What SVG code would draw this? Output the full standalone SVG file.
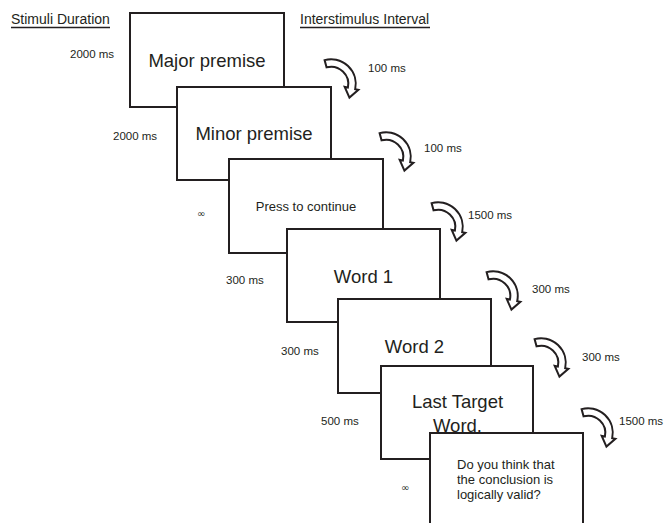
<svg xmlns="http://www.w3.org/2000/svg" width="665" height="523" viewBox="0 0 665 523">
<defs>
<style>
.box{fill:#fff;stroke:#231f20;stroke-width:2}
.t{font-family:"Liberation Sans",Arial,sans-serif;fill:#231f20}
.inf{font-family:"DejaVu Sans",sans-serif;font-size:10px;fill:#231f20}
.big{font-size:18.5px;text-anchor:middle}
.mid{font-size:13px}
.sm{font-size:11.5px}
.hd{font-size:14px}
.arr{fill:#fff;stroke:#231f20;stroke-width:2;stroke-linejoin:miter}
</style>
<path id="carrow" d="M -6.4,-23.9 A 24.75 24.75 0 0 1 24.2,5.15 L 27.4,5.82 L 18.43,13.6 L 13.7,2.91 L 16.9,3.6 A 17.25 17.25 0 0 0 -4.46,-16.66 Z"/>
</defs>
<rect width="665" height="523" fill="#fff"/>
<g id="headers">
<text class="t hd" x="11" y="23.5">Stimuli Duration</text>
<line x1="11" y1="27.5" x2="110" y2="27.5" stroke="#231f20" stroke-width="1.6"/>
<text class="t hd" x="300" y="23.5">Interstimulus Interval</text>
<line x1="300" y1="27.5" x2="430" y2="27.5" stroke="#231f20" stroke-width="1.6"/>
</g>
<g id="durations">
<text class="t sm" x="70" y="58">2000 ms</text>
<text class="t sm" x="113" y="140">2000 ms</text>
<text class="inf" x="197" y="217">∞</text>
<text class="t sm" x="226" y="284">300 ms</text>
<text class="t sm" x="281" y="355">300 ms</text>
<text class="t sm" x="321" y="425">500 ms</text>
<text class="inf" x="401" y="491">∞</text>
</g>
<g id="intervals">
<text class="t sm" x="368" y="72">100 ms</text>
<text class="t sm" x="424" y="152">100 ms</text>
<text class="t sm" x="468" y="219">1500 ms</text>
<text class="t sm" x="532" y="293">300 ms</text>
<text class="t sm" x="582" y="361">300 ms</text>
<text class="t sm" x="619" y="425">1500 ms</text>
</g>
<g id="connectors">
<use href="#carrow" class="arr" transform="translate(331,84)"/>
<use href="#carrow" class="arr" transform="translate(386,157)"/>
<use href="#carrow" class="arr" transform="translate(438,227)"/>
<use href="#carrow" class="arr" transform="translate(493,296)"/>
<use href="#carrow" class="arr" transform="translate(541,363)"/>
<use href="#carrow" class="arr" transform="translate(588,433)"/>
</g>
<g id="major-premise">
<rect class="box" x="130" y="13" width="154" height="94"/>
<text class="t big" x="207" y="67">Major premise</text>
</g>
<g id="minor-premise">
<rect class="box" x="177" y="87" width="154" height="93"/>
<text class="t big" x="254" y="140">Minor premise</text>
</g>
<g id="press-continue">
<rect class="box" x="229" y="159" width="154" height="94"/>
<text class="t mid" x="306" y="211" text-anchor="middle">Press to continue</text>
</g>
<g id="word1">
<rect class="box" x="287" y="229" width="153" height="93"/>
<text class="t big" x="363.5" y="283">Word 1</text>
</g>
<g id="word2">
<rect class="box" x="338" y="299" width="153" height="94"/>
<text class="t big" x="414.5" y="353">Word 2</text>
</g>
<g id="last-target">
<rect class="box" x="381" y="366" width="152" height="93"/>
<text class="t big" x="457.5" y="408">Last Target</text>
<text class="t big" x="457.5" y="432">Word.</text>
</g>
<g id="question">
<rect class="box" x="430" y="433" width="153" height="110"/>
<text class="t mid" x="457" y="468.5">Do you think that</text>
<text class="t mid" x="457" y="483.5">the conclusion is</text>
<text class="t mid" x="457" y="498.5">logically valid?</text>
</g>
</svg>
